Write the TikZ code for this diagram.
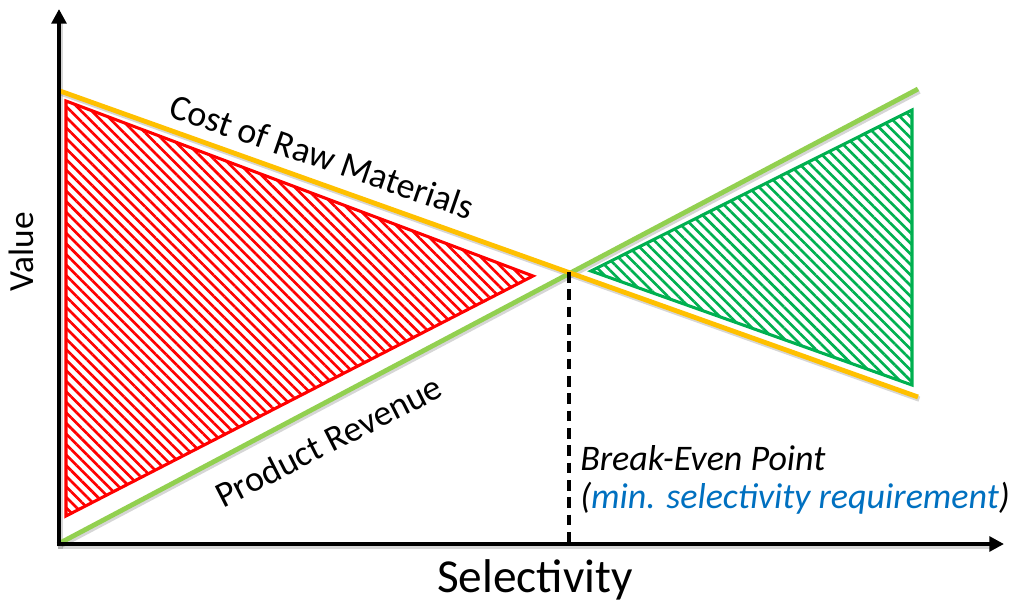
\documentclass[tikz,border=0pt]{standalone}
\usepackage{fontspec}
\setmainfont{Carlito}
\usetikzlibrary{arrows.meta,patterns.meta}
\definecolor{costorange}{RGB}{255,192,0}
\definecolor{revgreen}{RGB}{146,208,80}
\definecolor{gaingreen}{RGB}{0,176,80}
\definecolor{noteblue}{RGB}{0,112,192}
\begin{document}
\begin{tikzpicture}[x=0.75pt,y=-0.75pt,
  axisline/.style={line width=3.7pt,-{Triangle[length=11pt,width=11pt]}},
  trendline/.style={line width=3.6pt},
  softshadow/.style={line width=4pt,black,opacity=0.16,
    transform canvas={xshift=1pt,yshift=-1.6pt}},
  zone/.style={line width=2.3pt,line join=miter,
    pattern={Lines[angle=-45,distance=5.6pt,line width=2pt]}},
  axistext/.style={inner sep=0pt,font=\fontsize{27}{32}\selectfont},
  notetext/.style={inner sep=0pt,font=\itshape\fontsize{27}{32}\selectfont,anchor=base west},
]
\useasboundingbox (0,0) rectangle (1013,600);

% axes and the points the lines run through
\coordinate (O) at (59,544);
\coordinate (ytop) at (59,9);
\coordinate (xtip) at (1004,544);
\coordinate (ystart) at (59,546.4);
\coordinate (xstart) at (56.6,544);
\coordinate (c0) at (60,91);
\coordinate (c1) at (918,397);
\coordinate (r0) at (60,543);
\coordinate (r1) at (918,89);
\coordinate (B) at (569,272);

% loss and gain regions
\draw[zone,draw=red,pattern color=red] (66,101) -- (66,516) -- (533,276) -- cycle;
\draw[zone,draw=gaingreen,pattern color=gaingreen] (591,271) -- (912,110) -- (912,385) -- cycle;

% shadows under the lines
\draw[softshadow] (c0) -- (c1);
\draw[softshadow] (r0) -- (r1);
\draw[softshadow] (ystart) -- (59,20);
\draw[softshadow] (xstart) -- (994,544);

% cost and revenue lines
\draw[trendline,revgreen] (r0) -- (r1);
\draw[trendline,costorange] (c0) -- (c1);

% break-even marker
\draw[line width=2.7pt,dash pattern=on 8pt off 5pt] (B) -- (B |- O);

% axes
\draw[axisline] (ystart) -- (ytop);
\draw[axisline] (xstart) -- (xtip);

% texts
\node[axistext,rotate=-19,anchor=base] (cost) at (318,168) {Cost of Raw Materials};
\node[axistext,rotate=27,anchor=base] (rev) at (334,452) {Product Revenue};
\node[inner sep=0pt,font=\fontsize{26.5}{31}\selectfont,rotate=90,anchor=base] (val) at (33,252) {Value};
\node[inner sep=0pt,font=\fontsize{35.5}{42}\selectfont,anchor=base] (sel) at (535,592) {Selectivity};
\node[notetext] (be) at (580,470) {Break-Even Point};
\node[notetext] (req) at (580,508) {(\textcolor{noteblue}{min. selectivity requirement})};
\end{tikzpicture}
\end{document}
